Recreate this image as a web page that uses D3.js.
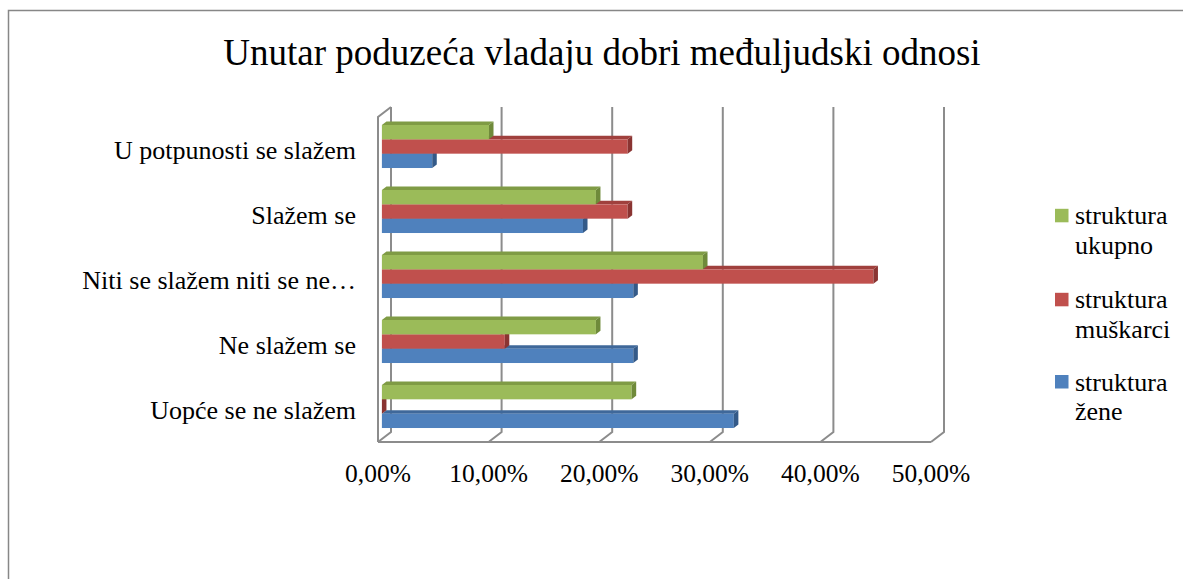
<!DOCTYPE html>
<html>
<head>
<meta charset="utf-8">
<script src="https://cdn.jsdelivr.net/npm/d3@7"></script>
<style>
  html, body { margin: 0; padding: 0; background: #fff; }
  svg { display: block; }
  text { font-family: "Liberation Serif", "Times New Roman", serif; fill: #000; }
</style>
</head>
<body>
<svg id="chart" width="1183" height="579"></svg>
<script>
// ---- data ----
const title = "Unutar poduzeća vladaju dobri međuljudski odnosi";
const categories = ["U potpunosti se slažem", "Slažem se", "Niti se slažem niti se ne…", "Ne slažem se", "Uopće se ne slažem"];
const seriesNames = ["struktura ukupno", "struktura muškarci", "struktura žene"];
const ukupno    = [0.0968, 0.1935, 0.2903, 0.1935, 0.2258];
const muskarci  = [0.2222, 0.2222, 0.4444, 0.1111, 0.0];
const zene      = [0.0455, 0.1818, 0.2273, 0.2273, 0.3182];
const tickValues = [0, 0.1, 0.2, 0.3, 0.4, 0.5];
const tickLabels = ["0,00%", "10,00%", "20,00%", "30,00%", "40,00%", "50,00%"];
const legendLines = [["struktura", "ukupno"], ["struktura", "muškarci"], ["struktura", "žene"]];

const seriesValues = [ukupno, muskarci, zene];
const colors = [
  { front: "#9BBB59", top: "#7F9B45", side: "#6F8A3A" },
  { front: "#C0504D", top: "#A0403D", side: "#8A3432" },
  { front: "#4F81BD", top: "#3F689A", side: "#345A88" }
];

const svg = d3.select("#chart");

// outer chart frame (cropped at right/bottom)
svg.append("path").attr("d", "M8.5,579 L8.5,10.5 L1183,10.5")
  .attr("fill", "none").attr("stroke", "#878787").attr("stroke-width", 1.5);

// title
svg.append("text").attr("x", 602).attr("y", 65).attr("text-anchor", "middle")
  .style("font-size", "37px").text(title);

// ---- 3D projection helpers ----
const x = d3.scaleLinear().domain([0, 0.5]).range([378, 931]);     // front floor plane
const y = d3.scaleBand().domain(categories).range([117, 442])
  .paddingInner(0.338).paddingOuter(0.169);                          // front plane
const ySub = d3.scaleBand().domain(seriesNames).range([0, y.bandwidth()]);
const DX = 13, DY = -10;     // full depth vector
const proj = (px, py, t) => [px + DX * t, py + DY * t];

const wallTop = 117, floorY = 442;
const grid = svg.append("g").attr("fill", "none").attr("stroke", "#8c8c8c").attr("stroke-width", 2);

// back-wall gridlines + floor diagonals
tickValues.forEach(v => {
  const [bx, bTop] = proj(x(v), wallTop, 1);
  const [, bBot] = proj(x(v), floorY, 1);
  grid.append("path").attr("d", `M${bx},${bTop} L${bx},${bBot} L${x(v)},${floorY}`);
});
// floor front edge
grid.append("path").attr("d", `M${x(0)},${floorY} L${x(0.5)},${floorY}`);
// left wall front edge + top diagonal
{
  const [bx, bTop] = proj(x(0), wallTop, 1);
  grid.append("path").attr("d", `M${x(0)},${floorY} L${x(0)},${wallTop} L${bx},${bTop}`);
}

// ---- bars ----
const t0 = 0.3, t1 = 0.65;
const d = DX * (t1 - t0), dd = DY * (t1 - t0);
const barsG = svg.append("g");
// draw bottom group first, bottom bar first (so upper front faces cover lower top faces)
for (let ci = categories.length - 1; ci >= 0; ci--) {
  const cat = categories[ci];
  for (let si = seriesNames.length - 1; si >= 0; si--) {
    const v = seriesValues[si][ci];
    const [xs, ys] = proj(x(0), y(cat) + ySub(seriesNames[si]), t0);
    const [xe] = proj(x(v), 0, t0);
    const h = ySub.bandwidth();
    const c = colors[si];
    // top face
    barsG.append("path")
      .attr("d", `M${xs},${ys} L${xe},${ys} L${xe + d},${ys + dd} L${xs + d},${ys + dd} Z`)
      .attr("fill", c.top);
    // front face
    barsG.append("rect").attr("x", xs).attr("y", ys).attr("width", Math.max(0, xe - xs)).attr("height", h)
      .attr("fill", c.front);
    // end (side) face
    barsG.append("path")
      .attr("d", `M${xe},${ys} L${xe + d},${ys + dd} L${xe + d},${ys + h + dd} L${xe},${ys + h} Z`)
      .attr("fill", c.side);
  }
}

// ---- category labels ----
svg.append("g").selectAll("text").data(categories).join("text")
  .attr("x", 356).attr("y", c => y(c) + y.bandwidth() / 2 + 9)
  .attr("text-anchor", "end").style("font-size", "26px").text(c => c);

// ---- value axis labels ----
svg.append("g").selectAll("text").data(tickValues).join("text")
  .attr("x", v => x(v)).attr("y", 481.5).attr("text-anchor", "middle")
  .style("font-size", "25.5px").text((v, i) => tickLabels[i]);

// ---- legend ----
const legendYs = [224.3, 308.3, 390.5];
const lg = svg.append("g");
legendLines.forEach((lines, i) => {
  lg.append("rect").attr("x", 1055).attr("y", legendYs[i] - 15.5).attr("width", 13.5).attr("height", 13.5)
    .attr("fill", colors[i].front);
  lines.forEach((ln, j) => {
    lg.append("text").attr("x", 1075).attr("y", legendYs[i] + j * 29.3)
      .style("font-size", "26px").text(ln);
  });
});
</script>
</body>
</html>
